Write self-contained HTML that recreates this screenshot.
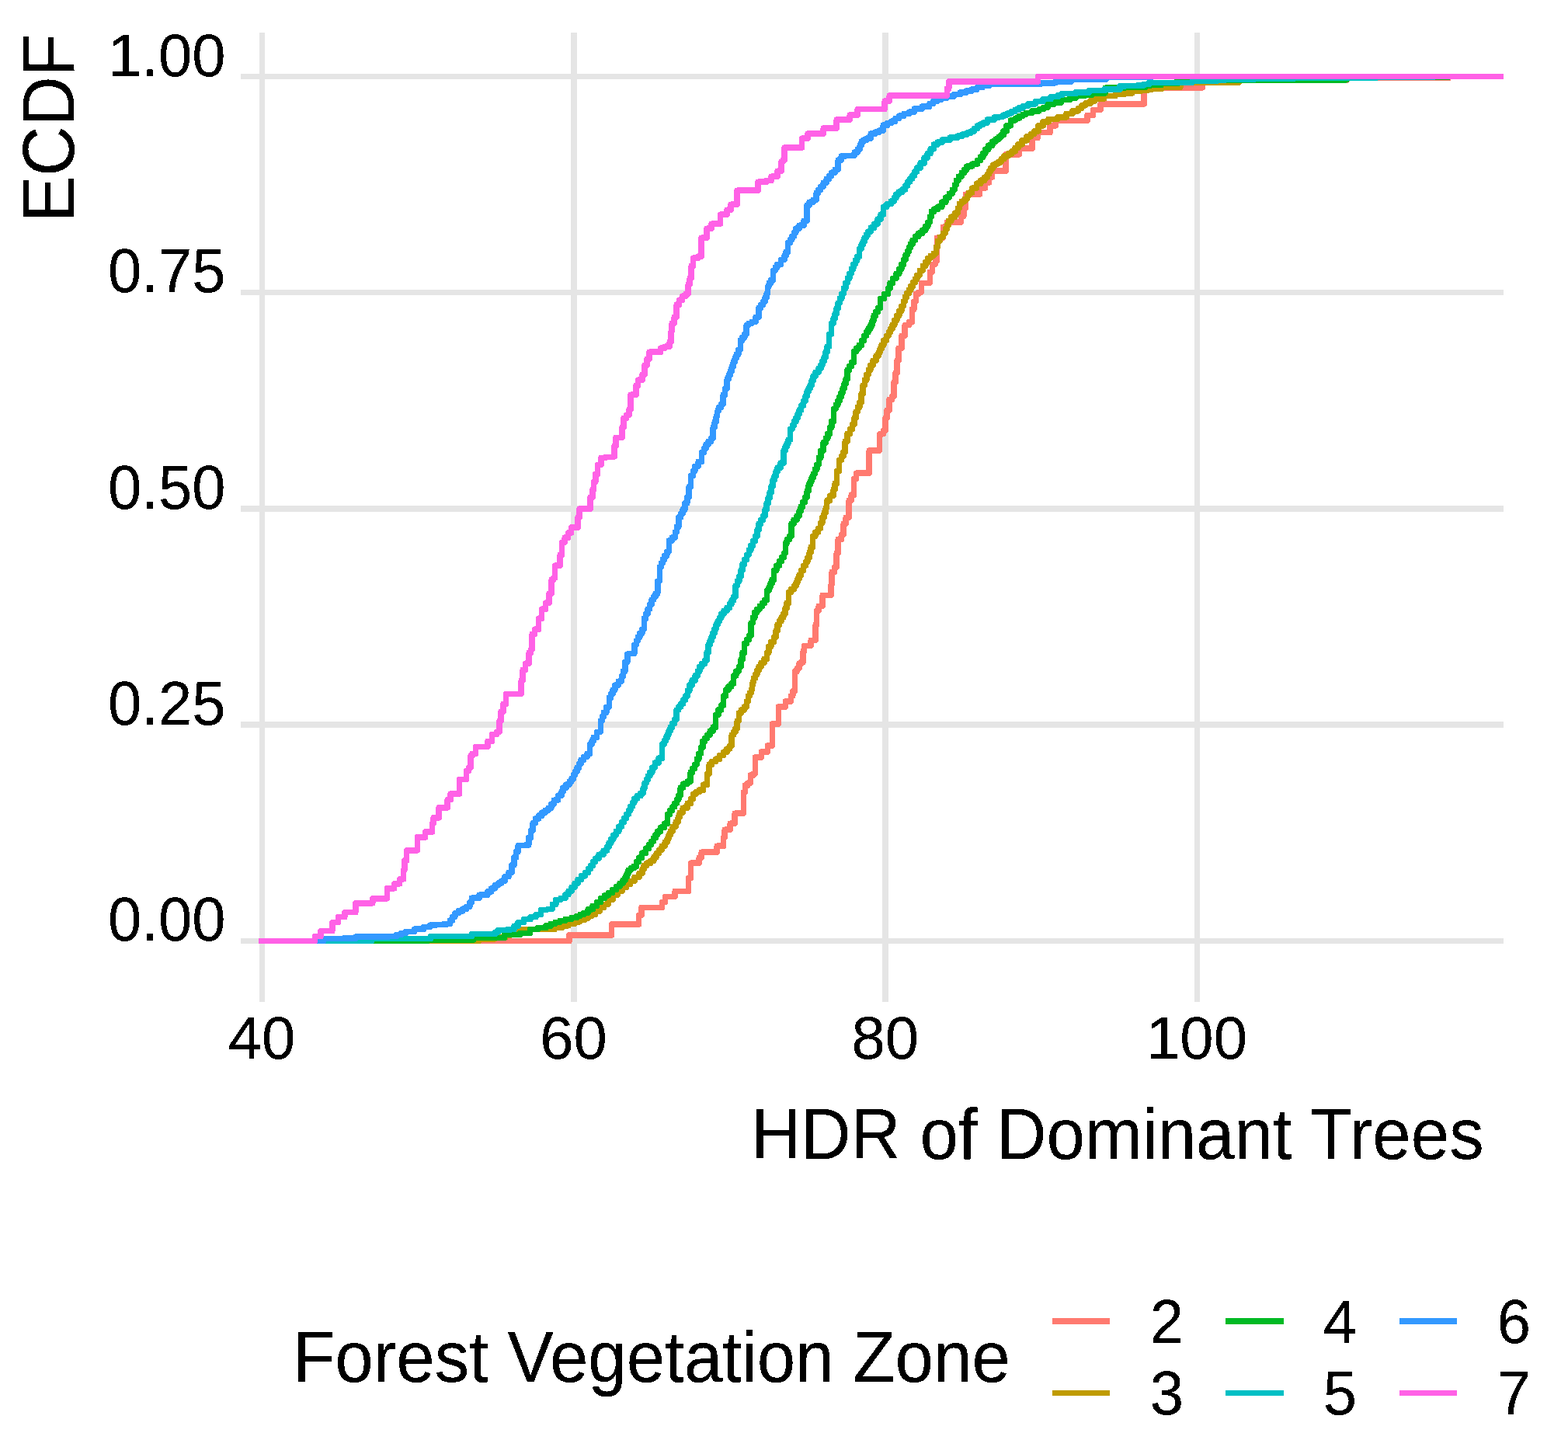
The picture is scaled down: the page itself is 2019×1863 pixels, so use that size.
<!DOCTYPE html>
<html lang="en">
<head>
<meta charset="utf-8">
<title>ECDF of HDR of Dominant Trees by Forest Vegetation Zone</title>
<style>
html,body{margin:0;padding:0;background:#fff;}
body{width:2019px;height:1863px;overflow:hidden;}
svg{display:block;}
text{filter:url(#crisp);font-family:"Liberation Sans",Arial,Helvetica,sans-serif;fill:#000;stroke:#000;stroke-width:0.2px;stroke-linejoin:round;}
.tk{font-size:77.8px;}
.tt{font-size:88.9px;}
.g{stroke:#E5E5E5;stroke-width:7;fill:none;stroke-linecap:butt;}
.c{fill:none;stroke-width:7.5;stroke-linejoin:round;stroke-linecap:butt;}
</style>
</head>
<body>
<svg width="2019" height="1863" viewBox="0 0 2019 1863" shape-rendering="crispEdges">
<defs><filter id="crisp" x="-10%" y="-10%" width="120%" height="120%" color-interpolation-filters="sRGB"><feComponentTransfer><feFuncA type="discrete" tableValues="0 1"/></feComponentTransfer></filter></defs>
<rect x="0" y="0" width="2019" height="1863" fill="#fff"/>
<g fill="#E5E5E5" stroke="none">
<rect x="310" y="95" width="1626" height="7"/>
<rect x="310" y="373" width="1626" height="7"/>
<rect x="310" y="651" width="1626" height="8"/>
<rect x="310" y="929" width="1626" height="8"/>
<rect x="310" y="1208" width="1626" height="7"/>
<rect x="334" y="42" width="7" height="1248"/>
<rect x="735" y="42" width="8" height="1248"/>
<rect x="1136" y="42" width="8" height="1248"/>
<rect x="1538" y="42" width="7" height="1248"/>
</g>
<g class="c">
<path stroke="#FF7A70" d="M333.0 1211.5 L700.0 1211.5 L733.0 1211.5 L733.0 1203.9 L786.1 1203.9 L787.6 1203.9 L787.6 1189.9 L789.1 1189.9 L821.1 1189.9 L822.6 1189.9 L822.6 1178.3 L824.1 1178.3 L826.1 1178.3 L826.1 1168.3 L828.1 1168.3 L851.2 1168.3 L852.7 1168.3 L852.7 1161.3 L854.2 1161.3 L856.7 1161.3 L856.7 1154.3 L859.2 1154.3 L869.2 1154.3 L869.2 1147.3 L885.2 1147.3 L886.7 1147.3 L886.7 1130.3 L888.2 1130.3 L889.7 1130.3 L889.7 1111.2 L891.2 1111.2 L900.2 1111.2 L900.2 1104.2 L903.2 1104.2 L903.2 1097.2 L906.2 1097.2 L923.2 1097.2 L923.2 1089.2 L930.2 1089.2 L931.7 1089.2 L931.7 1078.2 L933.2 1078.2 L933.2 1068.2 L940.2 1068.2 L940.2 1060.2 L946.2 1060.2 L946.2 1047.2 L956.3 1047.2 L957.3 1047.2 L957.3 1020.2 L958.3 1020.2 L959.3 1020.2 L959.3 1011.1 L960.3 1011.1 L962.8 1011.1 L962.8 1008.1 L965.3 1008.1 L966.3 1008.1 L966.3 998.1 L967.3 998.1 L969.8 998.1 L969.8 996.1 L972.3 996.1 L972.3 975.1 L980.3 975.1 L980.3 968.1 L988.3 968.1 L988.3 960.1 L993.3 960.1 L994.3 960.1 L994.3 932.1 L995.3 932.1 L1002.3 932.1 L1002.3 910.0 L1011.3 910.0 L1011.3 903.0 L1018.3 903.0 L1018.3 896.0 L1020.8 896.0 L1020.8 890.0 L1023.3 890.0 L1023.3 864.4 L1026.2 864.4 L1026.2 860.4 L1029.1 860.4 L1029.1 854.4 L1031.7 854.4 L1031.7 852.4 L1034.2 852.4 L1034.2 838.3 L1035.7 838.3 L1035.7 831.3 L1037.2 831.3 L1044.2 831.3 L1044.2 824.3 L1050.2 824.3 L1050.2 804.3 L1051.7 804.3 L1051.7 786.3 L1053.2 786.3 L1054.2 786.3 L1054.2 780.3 L1055.2 780.3 L1059.2 780.3 L1059.2 766.3 L1070.2 766.3 L1070.2 752.3 L1071.2 752.3 L1071.2 736.2 L1072.2 736.2 L1074.7 736.2 L1074.7 730.2 L1077.2 730.2 L1077.2 712.2 L1079.2 712.2 L1079.2 694.2 L1081.2 694.2 L1083.7 694.2 L1083.7 688.2 L1086.2 688.2 L1086.2 674.2 L1089.2 674.2 L1089.2 666.2 L1092.2 666.2 L1093.2 666.2 L1093.2 644.1 L1094.2 644.1 L1096.2 644.1 L1096.2 637.1 L1098.2 637.1 L1099.7 637.1 L1099.7 616.1 L1101.2 616.1 L1102.7 616.1 L1102.7 609.1 L1104.2 609.1 L1119.2 609.1 L1119.2 580.1 L1132.3 580.1 L1132.3 560.1 L1133.7 560.1 L1133.7 558.4 L1135.1 558.4 L1137.6 558.4 L1137.6 554.4 L1140.1 554.4 L1140.1 538.3 L1142.1 538.3 L1142.1 528.3 L1144.1 528.3 L1145.1 528.3 L1145.1 514.3 L1146.1 514.3 L1148.6 514.3 L1148.6 510.3 L1151.1 510.3 L1151.1 492.3 L1153.1 492.3 L1153.1 480.3 L1155.1 480.3 L1155.1 464.3 L1157.1 464.3 L1157.1 448.2 L1159.1 448.2 L1161.1 448.2 L1161.1 432.2 L1163.1 432.2 L1165.2 432.2 L1165.2 418.4 L1167.3 418.4 L1170.8 418.4 L1170.8 414.4 L1174.3 414.4 L1174.3 398.3 L1176.8 398.3 L1176.8 388.3 L1179.3 388.3 L1179.3 378.3 L1182.8 378.3 L1182.8 376.3 L1186.3 376.3 L1186.3 364.3 L1196.3 364.3 L1197.3 364.3 L1197.3 350.3 L1198.3 350.3 L1200.3 350.3 L1200.3 340.3 L1202.3 340.3 L1204.3 340.3 L1204.3 336.3 L1206.3 336.3 L1206.3 306.2 L1214.3 306.2 L1214.3 292.2 L1219.3 292.2 L1219.3 286.2 L1224.3 286.2 L1236.3 286.2 L1237.3 286.2 L1237.3 278.2 L1238.3 278.2 L1240.8 278.2 L1240.8 268.2 L1243.3 268.2 L1243.3 250.2 L1258.4 250.2 L1261.4 250.2 L1261.4 242.2 L1264.4 242.2 L1268.4 242.2 L1268.4 235.2 L1272.4 235.2 L1273.4 235.2 L1273.4 228.2 L1274.4 228.2 L1277.4 228.2 L1277.4 220.2 L1280.4 220.2 L1290.0 220.2 L1295.0 220.2 L1295.0 198.9 L1312.3 198.9 L1312.3 191.2 L1329.2 191.2 L1329.2 177.4 L1336.2 177.4 L1336.2 170.4 L1352.2 170.4 L1352.2 161.9 L1359.2 161.9 L1359.2 155.4 L1400.1 155.4 L1400.1 148.4 L1407.6 148.4 L1407.6 141.4 L1417.1 141.4 L1417.1 133.9 L1473.0 133.9 L1473.0 112.8 L1548.6 112.8 L1548.6 105.6 L1595.0 105.6 L1595.0 103.0 L1734.0 103.0 L1734.0 100.5 L1865.0 100.5 L1865.0 98.5 L1936.0 98.5"/>
<path stroke="#BF9B00" d="M333.0 1211.5 L531.7 1211.5 L606.6 1211.1 L616.8 1211.1 L616.8 1208.9 L637.3 1208.9 L637.3 1206.7 L647.5 1206.7 L650.8 1206.7 L650.8 1204.0 L657.5 1204.0 L657.5 1201.4 L664.2 1201.4 L664.2 1198.7 L667.5 1198.7 L673.5 1198.7 L673.5 1196.7 L679.5 1196.7 L708.0 1196.7 L714.0 1196.7 L714.0 1194.3 L720.0 1194.3 L724.0 1194.3 L724.0 1191.8 L732.0 1191.8 L732.0 1189.3 L736.0 1189.3 L739.5 1189.3 L739.5 1186.8 L746.5 1186.8 L746.5 1184.3 L750.1 1184.3 L752.4 1184.3 L752.4 1182.0 L757.1 1182.0 L757.1 1179.6 L761.7 1179.6 L761.7 1177.3 L764.1 1177.3 L766.7 1177.3 L766.7 1173.0 L772.1 1173.0 L772.1 1168.6 L777.4 1168.6 L777.4 1164.3 L780.1 1164.3 L783.1 1164.3 L783.1 1158.3 L789.1 1158.3 L789.1 1152.3 L792.1 1152.3 L795.1 1152.3 L795.1 1147.3 L801.1 1147.3 L801.1 1142.3 L804.1 1142.3 L806.6 1142.3 L806.6 1138.3 L811.6 1138.3 L811.6 1134.3 L814.1 1134.3 L817.1 1134.3 L817.1 1129.3 L823.1 1129.3 L823.1 1124.3 L826.1 1124.3 L827.1 1124.3 L827.1 1119.2 L829.1 1119.2 L829.1 1114.2 L830.1 1114.2 L832.6 1114.2 L832.6 1111.2 L837.6 1111.2 L837.6 1108.2 L840.1 1108.2 L841.8 1108.2 L841.8 1103.6 L845.1 1103.6 L845.1 1098.9 L848.5 1098.9 L848.5 1094.2 L850.2 1094.2 L852.2 1094.2 L852.2 1089.2 L856.2 1089.2 L856.2 1084.2 L858.2 1084.2 L859.2 1084.2 L859.2 1079.5 L861.2 1079.5 L861.2 1074.9 L863.2 1074.9 L863.2 1070.2 L864.2 1070.2 L866.2 1070.2 L866.2 1064.2 L870.2 1064.2 L870.2 1058.2 L872.2 1058.2 L873.2 1058.2 L873.2 1052.2 L875.2 1052.2 L875.2 1046.2 L876.2 1046.2 L879.2 1046.2 L879.2 1040.2 L885.2 1040.2 L885.2 1034.2 L888.2 1034.2 L889.7 1034.2 L889.7 1028.2 L892.7 1028.2 L892.7 1022.2 L894.2 1022.2 L896.2 1022.2 L896.2 1019.6 L900.2 1019.6 L900.2 1017.1 L902.2 1017.1 L905.7 1017.1 L905.7 1010.1 L909.2 1010.1 L910.7 1010.1 L910.7 996.1 L912.2 996.1 L913.2 996.1 L913.2 984.1 L914.2 984.1 L916.7 984.1 L916.7 980.6 L921.7 980.6 L921.7 977.1 L924.2 977.1 L926.7 977.1 L926.7 972.6 L931.7 972.6 L931.7 968.1 L934.2 968.1 L936.0 968.1 L936.0 964.1 L939.5 964.1 L939.5 960.1 L941.2 960.1 L942.2 960.1 L942.2 946.1 L943.2 946.1 L944.5 946.1 L944.5 942.1 L947.0 942.1 L947.0 938.1 L948.2 938.1 L949.2 938.1 L949.2 928.1 L951.3 928.1 L951.3 918.0 L952.3 918.0 L954.3 918.0 L954.3 914.0 L958.3 914.0 L958.3 910.0 L960.3 910.0 L961.3 910.0 L961.3 903.0 L963.3 903.0 L963.3 896.0 L964.3 896.0 L965.3 896.0 L965.3 892.0 L967.3 892.0 L967.3 888.0 L968.3 888.0 L969.3 878.0 L970.4 878.0 L970.4 873.1 L972.6 873.1 L972.6 868.2 L974.8 868.2 L974.8 863.3 L977.0 863.3 L977.0 858.4 L978.1 858.4 L980.1 858.4 L980.1 853.4 L984.1 853.4 L984.1 848.3 L986.1 848.3 L987.4 848.3 L987.4 840.3 L989.9 840.3 L989.9 832.3 L991.1 832.3 L992.9 832.3 L992.9 826.3 L996.4 826.3 L996.4 820.3 L998.1 820.3 L999.1 820.3 L999.1 812.3 L1001.1 812.3 L1001.1 804.3 L1002.1 804.3 L1003.5 804.3 L1003.5 799.6 L1006.1 799.6 L1006.1 795.0 L1008.8 795.0 L1008.8 790.3 L1010.1 790.3 L1011.1 790.3 L1011.1 783.3 L1013.1 783.3 L1013.1 776.3 L1014.1 776.3 L1015.6 776.3 L1015.6 762.3 L1017.1 762.3 L1018.9 762.3 L1018.9 758.3 L1022.4 758.3 L1022.4 754.3 L1024.1 754.3 L1025.1 754.3 L1025.1 749.6 L1027.1 749.6 L1027.1 744.9 L1029.1 744.9 L1029.1 740.2 L1030.2 740.2 L1031.7 740.2 L1031.7 734.2 L1034.7 734.2 L1034.7 728.2 L1036.2 728.2 L1037.4 728.2 L1037.4 723.2 L1039.9 723.2 L1039.9 718.2 L1041.2 718.2 L1042.2 718.2 L1042.2 711.2 L1044.2 711.2 L1044.2 704.2 L1045.2 704.2 L1046.7 704.2 L1046.7 690.2 L1048.2 690.2 L1049.9 690.2 L1049.9 685.2 L1053.4 685.2 L1053.4 680.2 L1055.2 680.2 L1056.4 680.2 L1056.4 673.2 L1058.9 673.2 L1058.9 666.2 L1060.2 666.2 L1061.2 666.2 L1061.2 660.2 L1063.2 660.2 L1063.2 654.2 L1064.2 654.2 L1065.2 644.1 L1068.7 644.1 L1068.7 638.1 L1072.2 638.1 L1073.2 638.1 L1073.2 630.1 L1075.2 630.1 L1075.2 622.1 L1076.2 622.1 L1077.7 622.1 L1077.7 606.1 L1079.2 606.1 L1080.7 606.1 L1080.7 592.1 L1082.2 592.1 L1083.5 592.1 L1083.5 587.1 L1086.0 587.1 L1086.0 582.1 L1087.2 582.1 L1088.2 582.1 L1088.2 568.1 L1089.2 568.1 L1091.1 568.1 L1091.1 558.4 L1093.1 558.4 L1094.6 558.4 L1094.6 552.4 L1097.6 552.4 L1097.6 546.3 L1099.1 546.3 L1100.1 546.3 L1100.1 538.3 L1102.1 538.3 L1102.1 530.3 L1103.1 530.3 L1104.3 530.3 L1104.3 524.3 L1106.8 524.3 L1106.8 518.3 L1108.1 518.3 L1109.1 518.3 L1109.1 507.3 L1111.1 507.3 L1111.1 496.3 L1112.1 496.3 L1113.3 496.3 L1113.3 489.3 L1115.8 489.3 L1115.8 482.3 L1117.1 482.3 L1118.3 482.3 L1118.3 476.3 L1120.8 476.3 L1120.8 470.3 L1122.1 470.3 L1124.1 470.3 L1124.1 464.3 L1128.1 464.3 L1128.1 458.3 L1130.1 458.3 L1131.1 458.3 L1131.1 453.6 L1133.1 453.6 L1133.1 448.9 L1135.1 448.9 L1135.1 444.2 L1136.1 444.2 L1137.8 444.2 L1137.8 438.2 L1141.4 438.2 L1141.4 432.2 L1143.1 432.2 L1144.3 432.2 L1144.3 427.6 L1146.7 427.6 L1146.7 423.0 L1149.1 423.0 L1149.1 418.4 L1150.3 418.4 L1151.8 418.4 L1151.8 412.4 L1154.8 412.4 L1154.8 406.3 L1156.3 406.3 L1157.8 406.3 L1157.8 400.3 L1160.8 400.3 L1160.8 394.3 L1162.3 394.3 L1163.3 394.3 L1163.3 388.3 L1165.3 388.3 L1165.3 382.3 L1166.3 382.3 L1167.6 382.3 L1167.6 377.7 L1170.3 377.7 L1170.3 373.0 L1172.9 373.0 L1172.9 368.3 L1174.3 368.3 L1175.6 368.3 L1175.6 363.6 L1178.3 363.6 L1178.3 359.0 L1180.9 359.0 L1180.9 354.3 L1182.3 354.3 L1184.3 354.3 L1184.3 348.3 L1188.3 348.3 L1188.3 342.3 L1190.3 342.3 L1191.8 342.3 L1191.8 337.3 L1194.8 337.3 L1194.8 332.3 L1196.3 332.3 L1198.3 332.3 L1198.3 329.3 L1202.3 329.3 L1202.3 326.3 L1204.3 326.3 L1205.3 326.3 L1205.3 318.3 L1207.3 318.3 L1207.3 310.3 L1208.3 310.3 L1210.3 310.3 L1210.3 305.2 L1214.3 305.2 L1214.3 300.2 L1216.3 300.2 L1217.3 300.2 L1217.3 294.9 L1219.3 294.9 L1219.3 289.6 L1221.3 289.6 L1221.3 284.2 L1222.3 284.2 L1224.8 284.2 L1224.8 279.2 L1229.8 279.2 L1229.8 274.2 L1232.3 274.2 L1233.3 274.2 L1233.3 268.2 L1235.3 268.2 L1235.3 262.2 L1236.3 262.2 L1238.3 262.2 L1238.3 259.2 L1242.3 259.2 L1242.3 256.2 L1244.3 256.2 L1245.3 256.2 L1245.3 252.2 L1247.3 252.2 L1247.3 248.2 L1248.3 248.2 L1251.4 248.2 L1251.4 242.2 L1257.4 242.2 L1257.4 236.2 L1260.4 236.2 L1262.9 236.2 L1262.9 232.2 L1267.9 232.2 L1267.9 228.2 L1270.4 228.2 L1271.4 228.2 L1271.4 224.2 L1273.4 224.2 L1273.4 220.2 L1274.4 220.2 L1275.9 220.2 L1275.9 216.2 L1278.9 216.2 L1278.9 212.2 L1280.4 212.2 L1282.4 212.2 L1282.4 210.2 L1286.4 210.2 L1286.4 208.1 L1288.4 208.1 L1289.2 208.1 L1289.2 204.8 L1290.0 204.8 L1293.0 204.8 L1293.0 200.8 L1296.0 200.8 L1298.2 200.8 L1298.2 197.9 L1302.8 197.9 L1302.8 194.9 L1305.0 194.9 L1307.0 194.9 L1307.0 190.4 L1311.0 190.4 L1311.0 185.9 L1313.0 185.9 L1316.0 185.9 L1316.0 180.9 L1322.0 180.9 L1322.0 175.9 L1325.0 175.9 L1327.2 175.9 L1327.2 172.4 L1331.8 172.4 L1331.8 168.9 L1334.0 168.9 L1337.0 168.9 L1337.0 161.9 L1340.0 161.9 L1343.0 161.9 L1343.0 156.9 L1346.0 156.9 L1350.0 156.9 L1350.0 153.4 L1354.0 153.4 L1362.0 153.4 L1362.0 150.9 L1370.0 150.9 L1373.0 150.9 L1373.0 146.4 L1376.0 146.4 L1381.0 146.4 L1381.0 142.9 L1386.0 142.9 L1388.2 142.9 L1388.2 139.4 L1392.8 139.4 L1392.8 135.9 L1395.0 135.9 L1397.5 135.9 L1397.5 133.0 L1400.0 133.0 L1404.0 133.0 L1404.0 130.0 L1408.0 130.0 L1409.5 130.0 L1409.5 127.0 L1411.0 127.0 L1421.5 127.0 L1421.5 123.5 L1432.0 123.5 L1436.0 123.5 L1436.0 121.5 L1440.0 121.5 L1447.5 121.5 L1447.5 120.0 L1455.0 120.0 L1457.5 120.0 L1457.5 117.5 L1460.0 117.5 L1475.0 116.5 L1477.5 116.5 L1477.5 115.0 L1480.0 115.0 L1490.0 114.5 L1495.9 114.5 L1495.9 112.5 L1501.8 112.5 L1519.8 112.5 L1519.8 106.5 L1595.3 106.1 L1595.3 103.0 L1734.0 102.8 L1734.0 100.5 L1764.0 100.5 L1764.0 99.3 L1865.0 99.3 L1865.0 98.5 L1936.0 98.5"/>
<path stroke="#00BA24" d="M333.0 1211.5 L523.7 1211.5 L579.6 1210.1 L609.6 1210.1 L609.6 1207.7 L639.5 1207.7 L649.5 1207.7 L649.5 1203.7 L659.5 1203.7 L669.5 1203.7 L669.5 1201.7 L679.5 1201.7 L682.5 1201.7 L682.5 1196.7 L685.5 1196.7 L692.4 1196.7 L692.4 1194.7 L699.4 1194.7 L700.0 1194.7 L703.0 1194.7 L703.0 1192.0 L709.0 1192.0 L709.0 1189.3 L712.0 1189.3 L715.0 1189.3 L715.0 1187.3 L721.0 1187.3 L721.0 1185.3 L724.0 1185.3 L728.0 1185.3 L728.0 1183.3 L736.0 1183.3 L736.0 1181.3 L740.0 1181.3 L742.4 1181.3 L742.4 1179.3 L747.0 1179.3 L747.0 1177.3 L751.7 1177.3 L751.7 1175.3 L754.1 1175.3 L757.1 1175.3 L757.1 1170.8 L763.1 1170.8 L763.1 1166.3 L766.1 1166.3 L768.6 1166.3 L768.6 1161.3 L773.6 1161.3 L773.6 1156.3 L776.1 1156.3 L778.6 1156.3 L778.6 1152.8 L783.6 1152.8 L783.6 1149.3 L786.1 1149.3 L788.6 1149.3 L788.6 1145.3 L793.6 1145.3 L793.6 1141.3 L796.1 1141.3 L798.1 1141.3 L798.1 1137.3 L802.1 1137.3 L802.1 1133.3 L804.1 1133.3 L805.1 1133.3 L805.1 1128.9 L807.1 1128.9 L807.1 1124.6 L809.1 1124.6 L809.1 1120.3 L810.1 1120.3 L812.1 1120.3 L812.1 1117.7 L816.1 1117.7 L816.1 1115.2 L818.1 1115.2 L819.6 1115.2 L819.6 1109.7 L822.6 1109.7 L822.6 1104.2 L824.1 1104.2 L826.6 1104.2 L826.6 1098.2 L831.6 1098.2 L831.6 1092.2 L834.1 1092.2 L835.6 1092.2 L835.6 1087.7 L838.6 1087.7 L838.6 1083.2 L840.1 1083.2 L841.5 1083.2 L841.5 1078.9 L844.1 1078.9 L844.1 1074.5 L846.8 1074.5 L846.8 1070.2 L848.1 1070.2 L850.7 1070.2 L850.7 1065.2 L855.7 1065.2 L855.7 1060.2 L858.2 1060.2 L859.7 1060.2 L859.7 1048.2 L861.2 1048.2 L862.7 1048.2 L862.7 1043.5 L865.7 1043.5 L865.7 1038.8 L868.7 1038.8 L868.7 1034.2 L870.2 1034.2 L871.4 1034.2 L871.4 1029.2 L873.9 1029.2 L873.9 1024.2 L875.2 1024.2 L876.2 1024.2 L876.2 1014.1 L877.2 1014.1 L879.7 1014.1 L879.7 1009.1 L882.2 1009.1 L885.2 1009.1 L885.2 1006.1 L888.2 1006.1 L889.2 1006.1 L889.2 994.1 L890.2 994.1 L891.7 994.1 L891.7 989.1 L894.7 989.1 L894.7 984.1 L896.2 984.1 L897.4 984.1 L897.4 977.1 L899.9 977.1 L899.9 970.1 L901.2 970.1 L902.5 970.1 L902.5 962.1 L905.0 962.1 L905.0 954.1 L906.2 954.1 L907.7 954.1 L907.7 950.1 L910.7 950.1 L910.7 946.1 L912.2 946.1 L914.2 946.1 L914.2 941.1 L918.2 941.1 L918.2 936.1 L920.2 936.1 L921.7 936.1 L921.7 920.1 L923.2 920.1 L925.0 920.1 L925.0 914.0 L928.5 914.0 L928.5 908.0 L930.2 908.0 L931.7 908.0 L931.7 896.0 L933.2 896.0 L934.7 896.0 L934.7 888.0 L936.2 888.0 L938.0 888.0 L938.0 884.0 L941.5 884.0 L941.5 880.0 L943.2 880.0 L944.7 880.0 L944.7 870.0 L946.1 870.0 L947.8 870.0 L947.8 864.2 L951.3 864.2 L951.3 858.4 L953.1 858.4 L954.1 858.4 L954.1 849.3 L956.1 849.3 L956.1 840.3 L957.1 840.3 L958.6 840.3 L958.6 828.3 L960.1 828.3 L961.6 828.3 L961.6 823.3 L964.6 823.3 L964.6 818.3 L966.1 818.3 L967.1 818.3 L967.1 802.3 L968.1 802.3 L969.3 802.3 L969.3 795.3 L971.8 795.3 L971.8 788.3 L973.1 788.3 L974.8 788.3 L974.8 784.3 L978.3 784.3 L978.3 780.3 L980.1 780.3 L981.6 780.3 L981.6 776.3 L984.6 776.3 L984.6 772.3 L986.1 772.3 L987.6 772.3 L987.6 760.3 L989.1 760.3 L990.1 760.3 L990.1 755.6 L992.1 755.6 L992.1 750.9 L994.1 750.9 L994.1 746.2 L995.1 746.2 L996.6 746.2 L996.6 734.2 L998.1 734.2 L999.9 734.2 L999.9 728.2 L1003.4 728.2 L1003.4 722.2 L1005.1 722.2 L1006.6 722.2 L1006.6 717.2 L1009.6 717.2 L1009.6 712.2 L1011.1 712.2 L1012.1 698.2 L1013.6 698.2 L1013.6 694.2 L1016.6 694.2 L1016.6 690.2 L1018.1 690.2 L1019.1 690.2 L1019.1 674.2 L1020.1 674.2 L1022.1 674.2 L1022.1 669.2 L1026.1 669.2 L1026.1 664.2 L1028.1 664.2 L1029.1 664.2 L1029.1 658.2 L1031.2 658.2 L1031.2 652.2 L1032.2 652.2 L1033.7 652.2 L1033.7 646.1 L1036.7 646.1 L1036.7 640.1 L1038.2 640.1 L1039.2 640.1 L1039.2 632.1 L1041.2 632.1 L1041.2 624.1 L1042.2 624.1 L1043.2 624.1 L1043.2 619.5 L1045.2 619.5 L1045.2 614.8 L1047.2 614.8 L1047.2 610.1 L1048.2 610.1 L1049.4 610.1 L1049.4 604.1 L1051.9 604.1 L1051.9 598.1 L1053.2 598.1 L1054.4 598.1 L1054.4 589.1 L1056.9 589.1 L1056.9 580.1 L1058.2 580.1 L1060.1 580.1 L1060.1 570.0 L1062.0 570.0 L1063.3 570.0 L1063.3 564.2 L1065.8 564.2 L1065.8 558.4 L1067.0 558.4 L1068.3 558.4 L1068.3 550.4 L1070.8 550.4 L1070.8 542.3 L1072.0 542.3 L1073.5 542.3 L1073.5 526.3 L1075.0 526.3 L1076.3 526.3 L1076.3 521.3 L1078.8 521.3 L1078.8 516.3 L1080.0 516.3 L1081.0 516.3 L1081.0 511.0 L1083.0 511.0 L1083.0 505.6 L1085.0 505.6 L1085.0 500.3 L1086.0 500.3 L1087.0 500.3 L1087.0 494.3 L1089.0 494.3 L1089.0 488.3 L1090.1 488.3 L1091.1 488.3 L1091.1 476.3 L1092.1 476.3 L1093.6 476.3 L1093.6 471.3 L1096.6 471.3 L1096.6 466.3 L1098.1 466.3 L1099.6 466.3 L1099.6 452.3 L1101.1 452.3 L1102.8 452.3 L1102.8 448.2 L1106.3 448.2 L1106.3 444.2 L1108.1 444.2 L1109.6 444.2 L1109.6 438.2 L1112.6 438.2 L1112.6 432.2 L1114.1 432.2 L1115.4 432.2 L1115.4 427.6 L1118.1 427.6 L1118.1 423.0 L1120.9 423.0 L1120.9 418.4 L1122.2 418.4 L1123.2 418.4 L1123.2 412.4 L1125.2 412.4 L1125.2 406.3 L1126.2 406.3 L1127.7 406.3 L1127.7 401.3 L1130.7 401.3 L1130.7 396.3 L1132.2 396.3 L1133.7 396.3 L1133.7 384.3 L1135.2 384.3 L1138.7 384.3 L1138.7 378.3 L1142.2 378.3 L1143.5 378.3 L1143.5 371.3 L1146.0 371.3 L1146.0 364.3 L1147.2 364.3 L1149.5 364.3 L1149.5 358.3 L1154.0 358.3 L1154.0 352.3 L1156.3 352.3 L1157.8 352.3 L1157.8 346.3 L1160.8 346.3 L1160.8 340.3 L1162.3 340.3 L1163.5 340.3 L1163.5 334.3 L1166.0 334.3 L1166.0 328.3 L1167.3 328.3 L1168.3 328.3 L1168.3 323.6 L1170.3 323.6 L1170.3 318.9 L1172.3 318.9 L1172.3 314.3 L1173.3 314.3 L1175.0 314.3 L1175.0 309.2 L1178.5 309.2 L1178.5 304.2 L1180.3 304.2 L1182.8 304.2 L1182.8 300.2 L1187.8 300.2 L1187.8 296.2 L1190.3 296.2 L1191.8 296.2 L1191.8 291.2 L1194.8 291.2 L1194.8 286.2 L1196.3 286.2 L1197.3 286.2 L1197.3 279.2 L1199.3 279.2 L1199.3 272.2 L1200.3 272.2 L1202.8 272.2 L1202.8 269.2 L1207.8 269.2 L1207.8 266.2 L1210.3 266.2 L1212.8 266.2 L1212.8 260.2 L1217.8 260.2 L1217.8 254.2 L1220.3 254.2 L1222.3 254.2 L1222.3 249.2 L1226.3 249.2 L1226.3 244.2 L1228.3 244.2 L1229.3 244.2 L1229.3 238.2 L1231.3 238.2 L1231.3 232.2 L1232.3 232.2 L1234.3 232.2 L1234.3 227.2 L1238.3 227.2 L1238.3 222.2 L1240.3 222.2 L1241.8 222.2 L1241.8 218.2 L1244.8 218.2 L1244.8 214.2 L1246.3 214.2 L1251.4 214.2 L1251.4 211.2 L1256.4 211.2 L1258.4 211.2 L1258.4 206.6 L1262.4 206.6 L1262.4 202.1 L1264.4 202.1 L1265.9 202.1 L1265.9 197.1 L1268.9 197.1 L1268.9 192.1 L1270.4 192.1 L1272.9 192.1 L1272.9 187.1 L1277.9 187.1 L1277.9 182.1 L1280.4 182.1 L1282.4 182.1 L1282.4 179.1 L1286.4 179.1 L1286.4 176.1 L1288.4 176.1 L1289.2 176.1 L1289.2 173.9 L1290.0 173.9 L1292.0 173.9 L1292.0 168.9 L1294.0 168.9 L1296.0 168.9 L1296.0 161.9 L1298.0 161.9 L1301.5 161.9 L1301.5 154.9 L1305.0 154.9 L1307.5 154.9 L1307.5 152.2 L1312.5 152.2 L1312.5 149.4 L1315.0 149.4 L1317.0 149.4 L1317.0 147.4 L1321.0 147.4 L1321.0 145.4 L1323.0 145.4 L1329.0 145.4 L1329.0 142.9 L1335.0 142.9 L1337.8 142.9 L1337.8 140.7 L1343.2 140.7 L1343.2 138.4 L1346.0 138.4 L1349.0 138.4 L1349.0 134.4 L1352.0 134.4 L1357.0 134.4 L1357.0 132.0 L1362.0 132.0 L1366.0 132.0 L1366.0 128.5 L1370.0 128.5 L1377.5 128.5 L1377.5 126.5 L1385.0 126.5 L1386.0 123.5 L1403.0 122.5 L1405.5 122.5 L1405.5 120.5 L1408.0 120.5 L1423.0 120.0 L1423.3 113.2 L1440.0 113.0 L1474.3 112.2 L1475.2 112.2 L1475.2 110.0 L1476.0 110.0 L1490.0 109.5 L1495.0 109.5 L1495.0 107.6 L1500.0 107.6 L1515.9 107.6 L1515.9 104.0 L1531.8 104.0 L1609.7 103.1 L1621.7 102.8 L1734.0 102.8 L1734.0 100.5 L1764.0 100.5 L1764.0 99.3 L1865.0 99.3 L1865.0 98.5 L1936.0 98.5"/>
<path stroke="#00BFC4" d="M333.0 1211.5 L427.8 1211.5 L478.8 1211.5 L478.8 1208.7 L529.7 1208.7 L554.6 1208.7 L554.6 1205.7 L579.6 1205.7 L607.6 1205.7 L607.6 1202.7 L635.5 1202.7 L637.5 1202.7 L637.5 1200.2 L641.5 1200.2 L641.5 1197.7 L643.5 1197.7 L659.5 1196.7 L662.0 1196.7 L662.0 1192.2 L667.0 1192.2 L667.0 1187.7 L669.5 1187.7 L674.5 1187.7 L674.5 1183.7 L679.5 1183.7 L683.0 1183.7 L683.0 1180.7 L689.9 1180.7 L689.9 1177.7 L693.4 1177.7 L696.4 1177.7 L696.4 1171.7 L699.4 1171.7 L700.0 1171.7 L709.0 1170.3 L711.3 1170.3 L711.3 1164.3 L715.8 1164.3 L715.8 1158.3 L718.0 1158.3 L722.0 1158.3 L722.0 1156.3 L726.0 1156.3 L728.0 1156.3 L728.0 1151.8 L732.0 1151.8 L732.0 1147.3 L734.0 1147.3 L736.0 1147.3 L736.0 1142.3 L740.0 1142.3 L740.0 1137.3 L744.0 1137.3 L744.0 1132.3 L746.0 1132.3 L748.5 1132.3 L748.5 1127.8 L753.6 1127.8 L753.6 1123.3 L756.1 1123.3 L757.6 1123.3 L757.6 1118.7 L760.6 1118.7 L760.6 1114.2 L763.6 1114.2 L763.6 1109.7 L766.6 1109.7 L766.6 1105.2 L768.1 1105.2 L771.1 1105.2 L771.1 1100.2 L777.1 1100.2 L777.1 1095.2 L780.1 1095.2 L781.4 1095.2 L781.4 1090.2 L784.1 1090.2 L784.1 1085.2 L786.8 1085.2 L786.8 1080.2 L788.1 1080.2 L789.8 1080.2 L789.8 1075.2 L793.3 1075.2 L793.3 1070.2 L795.1 1070.2 L796.8 1070.2 L796.8 1064.2 L800.4 1064.2 L800.4 1058.2 L802.1 1058.2 L803.6 1058.2 L803.6 1053.2 L806.6 1053.2 L806.6 1048.2 L808.1 1048.2 L809.4 1048.2 L809.4 1043.2 L811.9 1043.2 L811.9 1038.2 L813.1 1038.2 L814.4 1038.2 L814.4 1033.2 L816.9 1033.2 L816.9 1028.2 L818.1 1028.2 L820.4 1028.2 L820.4 1024.7 L824.9 1024.7 L824.9 1021.2 L827.1 1021.2 L828.1 1021.2 L828.1 1014.6 L830.1 1014.6 L830.1 1008.1 L831.1 1008.1 L832.3 1008.1 L832.3 1003.5 L834.6 1003.5 L834.6 998.8 L837.0 998.8 L837.0 994.1 L838.1 994.1 L839.9 994.1 L839.9 988.1 L843.4 988.1 L843.4 982.1 L845.1 982.1 L848.1 982.1 L848.1 976.1 L851.2 976.1 L852.7 976.1 L852.7 958.1 L854.2 958.1 L855.2 958.1 L855.2 954.1 L857.2 954.1 L857.2 950.1 L858.2 950.1 L859.2 950.1 L859.2 945.4 L861.2 945.4 L861.2 940.7 L863.2 940.7 L863.2 936.1 L864.2 936.1 L865.7 936.1 L865.7 931.1 L868.7 931.1 L868.7 926.1 L870.2 926.1 L871.2 926.1 L871.2 914.0 L872.2 914.0 L873.7 914.0 L873.7 910.0 L876.7 910.0 L876.7 906.0 L878.2 906.0 L879.7 906.0 L879.7 901.0 L882.7 901.0 L882.7 896.0 L884.2 896.0 L885.4 896.0 L885.4 889.0 L887.9 889.0 L887.9 882.0 L889.2 882.0 L891.1 882.0 L891.1 876.0 L895.1 876.0 L895.1 870.0 L897.0 870.0 L898.3 870.0 L898.3 864.2 L900.8 864.2 L900.8 858.4 L902.0 858.4 L903.8 858.4 L903.8 854.4 L907.3 854.4 L907.3 850.4 L909.0 850.4 L910.0 850.4 L910.0 840.3 L912.0 840.3 L912.0 830.3 L913.0 830.3 L914.0 830.3 L914.0 825.3 L916.0 825.3 L916.0 820.3 L917.0 820.3 L918.0 820.3 L918.0 815.0 L920.0 815.0 L920.0 809.6 L922.0 809.6 L922.0 804.3 L923.0 804.3 L924.2 804.3 L924.2 799.6 L926.5 799.6 L926.5 795.0 L928.9 795.0 L928.9 790.3 L930.1 790.3 L932.1 790.3 L932.1 786.3 L936.1 786.3 L936.1 782.3 L938.1 782.3 L939.4 782.3 L939.4 777.6 L942.1 777.6 L942.1 772.9 L944.7 772.9 L944.7 768.3 L946.1 768.3 L947.1 768.3 L947.1 754.3 L948.1 754.3 L949.3 754.3 L949.3 748.2 L951.8 748.2 L951.8 742.2 L953.1 742.2 L954.1 742.2 L954.1 734.2 L956.1 734.2 L956.1 726.2 L957.1 726.2 L958.6 726.2 L958.6 720.2 L961.6 720.2 L961.6 714.2 L963.1 714.2 L964.3 714.2 L964.3 708.2 L966.8 708.2 L966.8 702.2 L968.1 702.2 L969.6 702.2 L969.6 696.2 L972.6 696.2 L972.6 690.2 L974.1 690.2 L975.1 690.2 L975.1 682.2 L977.1 682.2 L977.1 674.2 L978.1 674.2 L979.6 674.2 L979.6 669.2 L982.6 669.2 L982.6 664.2 L984.1 664.2 L985.1 664.2 L985.1 656.2 L987.1 656.2 L987.1 648.1 L988.1 648.1 L989.1 648.1 L989.1 641.1 L991.1 641.1 L991.1 634.1 L992.1 634.1 L993.1 634.1 L993.1 626.1 L995.1 626.1 L995.1 618.1 L996.1 618.1 L997.1 618.1 L997.1 612.8 L999.1 612.8 L999.1 607.4 L1001.1 607.4 L1001.1 602.1 L1002.1 602.1 L1005.1 602.1 L1005.1 596.1 L1008.1 596.1 L1009.1 596.1 L1009.1 580.1 L1010.1 580.1 L1011.1 580.1 L1011.1 575.4 L1013.1 575.4 L1013.1 570.7 L1015.1 570.7 L1015.1 566.1 L1016.1 566.1 L1017.6 566.1 L1017.6 552.1 L1019.1 552.1 L1020.3 552.1 L1020.3 547.4 L1022.6 547.4 L1022.6 542.7 L1025.0 542.7 L1025.0 538.0 L1026.1 538.0 L1027.1 538.0 L1027.1 533.0 L1029.1 533.0 L1029.1 528.0 L1030.2 528.0 L1031.7 528.0 L1031.7 522.0 L1034.7 522.0 L1034.7 516.0 L1036.2 516.0 L1037.2 516.0 L1037.2 510.0 L1039.2 510.0 L1039.2 504.0 L1040.2 504.0 L1041.2 504.0 L1041.2 500.0 L1042.2 500.0 L1043.1 500.0 L1043.1 496.3 L1044.0 496.3 L1045.0 496.3 L1045.0 490.3 L1047.0 490.3 L1047.0 484.3 L1048.0 484.3 L1050.0 484.3 L1050.0 479.3 L1054.0 479.3 L1054.0 474.3 L1056.0 474.3 L1057.0 474.3 L1057.0 469.6 L1059.0 469.6 L1059.0 464.9 L1061.0 464.9 L1061.0 460.3 L1062.0 460.3 L1063.0 460.3 L1063.0 453.3 L1065.0 453.3 L1065.0 446.2 L1066.0 446.2 L1067.5 446.2 L1067.5 430.2 L1069.0 430.2 L1070.5 430.2 L1070.5 416.2 L1072.0 416.2 L1073.0 416.2 L1073.0 410.2 L1075.0 410.2 L1075.0 404.2 L1076.0 404.2 L1077.0 404.2 L1077.0 397.2 L1079.0 397.2 L1079.0 390.2 L1080.0 390.2 L1081.3 390.2 L1081.3 384.2 L1083.8 384.2 L1083.8 378.2 L1085.0 378.2 L1086.3 378.2 L1086.3 371.2 L1088.8 371.2 L1088.8 364.2 L1090.1 364.2 L1091.3 364.2 L1091.3 358.2 L1093.8 358.2 L1093.8 352.2 L1095.1 352.2 L1096.3 352.2 L1096.3 346.1 L1098.8 346.1 L1098.8 340.1 L1100.1 340.1 L1101.3 340.1 L1101.3 335.1 L1103.8 335.1 L1103.8 330.1 L1105.1 330.1 L1106.6 330.1 L1106.6 320.1 L1108.1 320.1 L1109.1 320.1 L1109.1 315.4 L1111.1 315.4 L1111.1 310.8 L1113.1 310.8 L1113.1 306.1 L1114.1 306.1 L1115.3 306.1 L1115.3 302.1 L1117.8 302.1 L1117.8 298.1 L1119.1 298.1 L1121.3 298.1 L1121.3 293.1 L1125.8 293.1 L1125.8 288.1 L1128.1 288.1 L1130.1 288.1 L1130.1 282.1 L1134.1 282.1 L1134.1 276.1 L1136.1 276.1 L1137.6 276.1 L1137.6 266.1 L1139.1 266.1 L1141.9 266.1 L1141.9 262.6 L1147.4 262.6 L1147.4 259.1 L1150.1 259.1 L1151.4 259.1 L1151.4 254.6 L1153.9 254.6 L1153.9 250.1 L1155.1 250.1 L1157.4 250.1 L1157.4 247.0 L1161.9 247.0 L1161.9 244.0 L1164.1 244.0 L1165.6 244.0 L1165.6 239.0 L1168.6 239.0 L1168.6 234.0 L1170.1 234.0 L1171.6 234.0 L1171.6 230.0 L1174.6 230.0 L1174.6 226.0 L1176.1 226.0 L1177.6 226.0 L1177.6 221.0 L1180.6 221.0 L1180.6 216.0 L1182.1 216.0 L1185.1 216.0 L1185.1 210.0 L1188.1 210.0 L1190.2 210.0 L1190.2 203.0 L1192.2 203.0 L1194.2 203.0 L1194.2 197.4 L1198.2 197.4 L1198.2 191.8 L1202.3 191.8 L1202.3 186.1 L1204.3 186.1 L1207.3 186.1 L1207.3 183.1 L1213.3 183.1 L1213.3 180.1 L1216.3 180.1 L1223.3 180.1 L1223.3 177.1 L1230.3 177.1 L1233.3 177.1 L1233.3 175.1 L1239.3 175.1 L1239.3 173.1 L1242.3 173.1 L1244.8 173.1 L1244.8 171.1 L1249.8 171.1 L1249.8 169.1 L1252.4 169.1 L1254.4 169.1 L1254.4 165.6 L1258.4 165.6 L1258.4 162.1 L1260.4 162.1 L1262.4 162.1 L1262.4 160.1 L1266.4 160.1 L1266.4 158.1 L1268.4 158.1 L1271.4 158.1 L1271.4 154.1 L1274.4 154.1 L1280.4 154.1 L1280.4 151.1 L1286.4 151.1 L1290.0 149.9 L1292.5 149.9 L1292.5 147.9 L1297.5 147.9 L1297.5 145.9 L1300.0 145.9 L1302.3 145.9 L1302.3 143.6 L1307.0 143.6 L1307.0 141.2 L1311.7 141.2 L1311.7 138.9 L1314.0 138.9 L1317.2 138.9 L1317.2 136.4 L1323.8 136.4 L1323.8 133.9 L1327.0 133.9 L1333.5 133.9 L1333.5 130.5 L1340.0 130.5 L1343.0 130.5 L1343.0 127.5 L1346.0 127.5 L1353.0 127.5 L1353.0 124.5 L1360.0 124.5 L1362.5 124.5 L1362.5 122.5 L1367.5 122.5 L1367.5 120.5 L1370.0 120.5 L1385.0 120.5 L1385.0 119.0 L1400.0 119.0 L1402.0 119.0 L1402.0 116.5 L1404.0 116.5 L1422.0 116.5 L1422.0 115.0 L1440.0 115.0 L1442.0 115.0 L1442.0 111.0 L1444.0 111.0 L1470.0 110.0 L1472.5 110.0 L1472.5 108.5 L1475.0 108.5 L1479.5 108.5 L1479.5 106.5 L1483.9 106.5 L1531.8 106.5 L1534.8 106.5 L1534.8 104.7 L1537.8 104.7 L1567.7 104.0 L1570.1 102.9 L1595.3 102.5 L1621.7 101.6 L1640.0 101.0 L1700.0 100.5 L1800.0 99.5 L1865.0 98.5 L1936.0 98.5"/>
<path stroke="#3399FF" d="M333.0 1211.5 L408.9 1211.5 L416.4 1211.5 L416.4 1208.7 L423.8 1208.7 L447.8 1208.1 L457.8 1208.1 L457.8 1206.1 L467.8 1206.1 L507.7 1205.7 L510.7 1205.7 L510.7 1203.6 L516.7 1203.6 L516.7 1201.4 L522.7 1201.4 L522.7 1199.3 L525.7 1199.3 L533.7 1199.3 L533.7 1196.1 L541.7 1196.1 L545.7 1196.1 L545.7 1193.6 L553.6 1193.6 L553.6 1191.1 L557.6 1191.1 L577.6 1189.7 L579.3 1189.7 L579.3 1185.1 L582.6 1185.1 L582.6 1180.4 L585.9 1180.4 L585.9 1175.7 L587.6 1175.7 L590.3 1175.7 L590.3 1172.9 L595.6 1172.9 L595.6 1170.1 L600.9 1170.1 L600.9 1167.3 L603.6 1167.3 L604.8 1167.3 L604.8 1161.8 L607.3 1161.8 L607.3 1156.2 L608.6 1156.2 L617.1 1156.2 L617.1 1152.2 L625.5 1152.2 L627.9 1152.2 L627.9 1148.0 L632.5 1148.0 L632.5 1143.9 L637.2 1143.9 L637.2 1139.8 L639.5 1139.8 L641.5 1139.8 L641.5 1137.0 L645.5 1137.0 L645.5 1134.2 L647.5 1134.2 L650.0 1134.2 L650.0 1128.7 L655.0 1128.7 L655.0 1123.2 L657.5 1123.2 L659.0 1123.2 L659.0 1113.5 L662.0 1113.5 L662.0 1103.8 L663.5 1103.8 L664.7 1103.8 L664.7 1096.4 L667.2 1096.4 L667.2 1088.9 L668.5 1088.9 L679.5 1087.9 L680.8 1087.9 L680.8 1078.5 L683.5 1078.5 L683.5 1069.2 L686.1 1069.2 L686.1 1059.9 L687.4 1059.9 L689.4 1059.9 L689.4 1053.9 L691.4 1053.9 L693.6 1053.9 L693.6 1050.0 L697.9 1050.0 L697.9 1046.2 L700.0 1046.2 L702.0 1046.2 L702.0 1043.2 L706.0 1043.2 L706.0 1040.2 L708.0 1040.2 L709.8 1040.2 L709.8 1035.2 L713.3 1035.2 L713.3 1030.2 L715.0 1030.2 L718.5 1030.2 L718.5 1024.2 L722.0 1024.2 L723.0 1024.2 L723.0 1019.1 L725.0 1019.1 L725.0 1014.1 L726.0 1014.1 L729.0 1014.1 L729.0 1010.1 L732.0 1010.1 L733.3 1010.1 L733.3 1006.3 L735.9 1006.3 L735.9 1002.4 L737.2 1002.4 L738.4 1002.4 L738.4 997.7 L740.7 997.7 L740.7 993.0 L743.1 993.0 L743.1 988.3 L744.2 988.3 L745.5 988.3 L745.5 983.3 L748.0 983.3 L748.0 978.3 L749.2 978.3 L751.5 978.3 L751.5 974.3 L756.0 974.3 L756.0 970.3 L758.2 970.3 L759.7 970.3 L759.7 958.3 L761.2 958.3 L762.2 958.3 L762.2 953.8 L764.2 953.8 L764.2 949.3 L765.2 949.3 L768.7 949.3 L768.7 942.3 L772.3 942.3 L773.3 942.3 L773.3 928.3 L774.3 928.3 L775.3 928.3 L775.3 922.8 L777.3 922.8 L777.3 917.3 L778.3 917.3 L780.8 917.3 L780.8 910.3 L783.3 910.3 L784.3 910.3 L784.3 898.3 L785.3 898.3 L786.5 898.3 L786.5 893.3 L789.0 893.3 L789.0 888.2 L790.3 888.2 L791.8 888.2 L791.8 882.2 L793.3 882.2 L796.3 882.2 L796.3 877.2 L799.3 877.2 L800.3 877.2 L800.3 870.7 L802.3 870.7 L802.3 864.2 L803.3 864.2 L804.8 864.2 L804.8 852.2 L806.3 852.2 L807.8 852.2 L807.8 842.2 L809.3 842.2 L815.3 841.2 L816.8 841.2 L816.8 830.2 L818.3 830.2 L819.3 830.2 L819.3 825.2 L821.3 825.2 L821.3 820.2 L822.3 820.2 L823.8 820.2 L823.8 815.2 L826.8 815.2 L826.8 810.2 L828.3 810.2 L829.3 810.2 L829.3 796.2 L830.3 796.2 L831.6 796.2 L831.6 790.2 L834.1 790.2 L834.1 784.1 L835.3 784.1 L836.6 784.1 L836.6 778.1 L839.1 778.1 L839.1 772.1 L840.3 772.1 L841.6 772.1 L841.6 768.1 L844.1 768.1 L844.1 764.1 L845.3 764.1 L846.8 764.1 L846.8 748.1 L848.3 748.1 L849.3 748.1 L849.3 730.1 L850.3 730.1 L851.3 730.1 L851.3 725.1 L853.3 725.1 L853.3 720.1 L854.3 720.1 L855.8 720.1 L855.8 715.1 L858.8 715.1 L858.8 710.1 L860.3 710.1 L861.3 710.1 L861.3 696.1 L862.3 696.1 L865.3 696.1 L865.3 692.1 L868.3 692.1 L869.3 692.1 L869.3 685.0 L871.4 685.0 L871.4 678.0 L872.4 678.0 L873.9 678.0 L873.9 666.0 L875.4 666.0 L876.6 666.0 L876.6 661.0 L879.1 661.0 L879.1 656.0 L880.4 656.0 L881.9 656.0 L881.9 648.0 L883.4 648.0 L884.8 648.0 L884.8 640.0 L886.2 640.0 L887.2 640.0 L887.2 626.4 L888.2 626.4 L889.7 626.4 L889.7 612.3 L891.2 612.3 L892.4 612.3 L892.4 606.3 L894.9 606.3 L894.9 600.3 L896.2 600.3 L899.2 600.3 L899.2 594.3 L902.2 594.3 L903.7 594.3 L903.7 582.3 L905.2 582.3 L906.5 582.3 L906.5 577.3 L909.0 577.3 L909.0 572.3 L910.2 572.3 L912.0 572.3 L912.0 568.3 L915.5 568.3 L915.5 564.3 L917.2 564.3 L918.2 564.3 L918.2 550.3 L919.2 550.3 L920.2 550.3 L920.2 543.3 L922.2 543.3 L922.2 536.3 L923.2 536.3 L924.2 528.3 L925.7 528.3 L925.7 524.3 L928.7 524.3 L928.7 520.3 L930.2 520.3 L931.2 520.3 L931.2 508.2 L932.2 508.2 L933.7 508.2 L933.7 500.2 L935.2 500.2 L936.2 500.2 L936.2 488.2 L937.2 488.2 L938.2 488.2 L938.2 483.2 L940.2 483.2 L940.2 478.2 L941.2 478.2 L942.2 478.2 L942.2 472.2 L944.2 472.2 L944.2 466.2 L945.2 466.2 L946.2 466.2 L946.2 461.2 L948.2 461.2 L948.2 456.2 L949.2 456.2 L950.8 456.2 L950.8 450.2 L952.3 450.2 L953.3 450.2 L953.3 438.2 L954.3 438.2 L955.8 438.2 L955.8 434.2 L958.8 434.2 L958.8 430.2 L960.3 430.2 L961.2 430.2 L961.2 418.4 L962.1 418.4 L964.1 418.4 L964.1 416.4 L968.1 416.4 L968.1 414.4 L970.1 414.4 L973.1 414.4 L973.1 408.3 L976.1 408.3 L977.1 408.3 L977.1 396.3 L978.1 396.3 L979.6 396.3 L979.6 392.3 L982.6 392.3 L982.6 388.3 L984.1 388.3 L985.1 388.3 L985.1 383.3 L987.1 383.3 L987.1 378.3 L988.1 378.3 L989.1 368.3 L990.3 368.3 L990.3 364.3 L992.8 364.3 L992.8 360.3 L994.1 360.3 L995.6 360.3 L995.6 348.3 L997.1 348.3 L998.3 348.3 L998.3 344.3 L1000.9 344.3 L1000.9 340.3 L1002.1 340.3 L1005.6 340.3 L1005.6 334.3 L1009.1 334.3 L1010.1 334.3 L1010.1 329.3 L1012.1 329.3 L1012.1 324.3 L1013.1 324.3 L1014.6 324.3 L1014.6 312.3 L1016.1 312.3 L1017.4 312.3 L1017.4 308.2 L1019.9 308.2 L1019.9 304.2 L1021.1 304.2 L1022.4 304.2 L1022.4 299.2 L1024.9 299.2 L1024.9 294.2 L1026.1 294.2 L1029.1 294.2 L1029.1 290.2 L1032.1 290.2 L1035.1 290.2 L1035.1 284.2 L1038.1 284.2 L1039.1 284.2 L1039.1 264.2 L1040.1 264.2 L1042.1 264.2 L1042.1 260.2 L1044.1 260.2 L1047.1 260.2 L1047.1 257.2 L1050.2 257.2 L1051.2 257.2 L1051.2 248.2 L1052.2 248.2 L1053.7 248.2 L1053.7 244.2 L1056.7 244.2 L1056.7 240.2 L1058.2 240.2 L1060.2 240.2 L1060.2 235.2 L1064.2 235.2 L1064.2 230.2 L1066.2 230.2 L1067.7 230.2 L1067.7 226.2 L1070.7 226.2 L1070.7 222.2 L1072.2 222.2 L1075.2 222.2 L1075.2 218.2 L1078.2 218.2 L1079.2 218.2 L1079.2 206.1 L1080.2 206.1 L1083.2 206.1 L1083.2 201.1 L1086.2 201.1 L1098.2 200.1 L1100.2 200.1 L1100.2 196.1 L1104.2 196.1 L1104.2 192.1 L1106.2 192.1 L1107.2 192.1 L1107.2 187.1 L1109.2 187.1 L1109.2 182.1 L1110.2 182.1 L1112.2 182.1 L1112.2 180.1 L1116.2 180.1 L1116.2 178.1 L1118.2 178.1 L1121.2 178.1 L1121.2 172.1 L1124.2 172.1 L1126.7 172.1 L1126.7 170.1 L1131.7 170.1 L1131.7 168.1 L1134.2 168.1 L1137.2 168.1 L1137.2 161.1 L1140.2 161.1 L1142.7 161.1 L1142.7 158.6 L1147.7 158.6 L1147.7 156.1 L1150.3 156.1 L1152.8 156.1 L1152.8 152.6 L1157.8 152.6 L1157.8 149.1 L1160.3 149.1 L1163.8 149.1 L1163.8 146.6 L1170.8 146.6 L1170.8 144.1 L1174.3 144.1 L1177.3 144.1 L1177.3 140.1 L1180.3 140.1 L1187.3 140.1 L1187.3 137.1 L1194.3 137.1 L1196.8 137.1 L1196.8 133.6 L1201.8 133.6 L1201.8 130.1 L1204.3 130.1 L1206.8 130.1 L1206.8 128.1 L1211.8 128.1 L1211.8 126.1 L1214.3 126.1 L1219.3 126.1 L1219.3 124.1 L1224.3 124.1 L1228.3 124.1 L1228.3 121.6 L1236.3 121.6 L1236.3 119.1 L1240.3 119.1 L1243.8 119.1 L1243.8 117.1 L1250.9 117.1 L1250.9 115.1 L1254.4 115.1 L1257.9 115.1 L1257.9 112.6 L1264.9 112.6 L1264.9 110.1 L1268.4 110.1 L1274.4 110.1 L1274.4 108.0 L1280.4 108.0 L1290.0 108.0 L1317.0 108.0 L1317.0 107.8 L1342.0 107.8 L1342.0 106.8 L1359.0 106.8 L1359.0 105.1 L1379.0 105.1 L1379.0 102.1 L1424.0 102.1 L1424.0 99.3 L1483.0 99.3 L1483.0 98.5 L1936.0 98.5"/>
<path stroke="#FF61E6" d="M333.0 1211.5 L405.5 1211.5 L405.5 1205.7 L412.9 1205.7 L412.9 1198.7 L427.8 1198.7 L427.8 1187.7 L435.4 1187.7 L435.4 1180.7 L443.8 1180.7 L443.8 1174.7 L457.8 1174.7 L457.8 1162.8 L479.8 1162.8 L479.8 1156.8 L498.3 1156.8 L498.3 1143.8 L507.7 1143.8 L507.7 1137.8 L514.7 1137.8 L514.7 1131.8 L519.7 1131.8 L519.7 1119.8 L520.9 1119.8 L520.9 1107.8 L522.1 1107.8 L523.7 1107.8 L523.7 1094.9 L525.3 1094.9 L537.3 1094.9 L537.3 1077.9 L547.7 1077.9 L547.7 1070.9 L556.6 1070.9 L556.6 1059.9 L558.1 1059.9 L558.1 1052.9 L559.6 1052.9 L565.2 1052.9 L565.2 1039.9 L576.2 1039.9 L576.2 1029.6 L580.2 1029.6 L580.2 1022.0 L591.6 1022.0 L591.6 1003.4 L591.6 1003.4 L591.6 1003.4 L600.7 1003.4 L600.7 992.4 L603.4 992.4 L603.4 988.3 L606.1 988.3 L606.1 973.3 L608.1 973.3 L608.1 970.3 L610.1 970.3 L612.6 970.3 L612.6 961.3 L615.1 961.3 L625.1 961.3 L628.1 961.3 L628.1 954.3 L631.1 954.3 L633.6 954.3 L633.6 945.3 L636.1 945.3 L639.6 945.3 L639.6 942.3 L643.1 942.3 L643.1 928.3 L645.1 928.3 L645.1 916.3 L647.1 916.3 L648.1 916.3 L648.1 906.3 L649.1 906.3 L651.6 906.3 L651.6 893.3 L654.1 893.3 L669.1 893.3 L671.2 893.3 L671.2 876.2 L673.2 876.2 L673.2 862.2 L676.7 862.2 L676.7 854.2 L680.2 854.2 L681.2 854.2 L681.2 840.2 L682.2 840.2 L683.7 840.2 L683.7 836.2 L685.2 836.2 L685.2 816.2 L688.7 816.2 L688.7 810.2 L692.2 810.2 L693.7 810.2 L693.7 796.2 L695.2 796.2 L697.7 796.2 L697.7 784.1 L700.2 784.1 L702.7 784.1 L702.7 776.1 L705.2 776.1 L707.2 776.1 L707.2 764.1 L709.2 764.1 L710.2 764.1 L710.2 746.1 L711.2 746.1 L712.9 746.1 L712.9 744.1 L714.6 744.1 L714.6 728.1 L720.2 728.1 L721.2 728.1 L721.2 714.1 L722.2 714.1 L723.7 714.1 L723.7 698.1 L725.2 698.1 L727.2 698.1 L727.2 692.1 L729.2 692.1 L731.7 692.1 L731.7 686.0 L734.2 686.0 L735.7 686.0 L735.7 679.0 L737.2 679.0 L743.2 679.0 L744.2 679.0 L744.2 666.0 L745.2 666.0 L746.2 666.0 L746.2 655.0 L747.2 655.0 L760.2 655.0 L760.2 640.0 L763.1 640.0 L763.1 630.4 L764.3 630.4 L764.3 620.4 L766.8 620.4 L766.8 610.3 L768.1 610.3 L769.6 610.3 L769.6 598.3 L771.1 598.3 L774.1 598.3 L774.1 589.3 L777.1 589.3 L790.1 587.9 L791.1 587.9 L791.1 574.3 L792.1 574.3 L793.1 574.3 L793.1 563.3 L794.1 563.3 L800.1 563.3 L801.1 563.3 L801.1 550.3 L802.1 550.3 L803.1 550.3 L803.1 538.3 L804.1 538.3 L806.6 538.3 L806.6 534.3 L809.1 534.3 L810.1 534.3 L810.1 527.3 L811.1 527.3 L812.1 527.3 L812.1 508.2 L813.1 508.2 L819.1 508.2 L819.1 496.2 L821.6 496.2 L821.6 489.2 L824.1 489.2 L827.1 489.2 L827.1 482.2 L830.1 482.2 L830.1 470.2 L833.1 470.2 L833.1 462.2 L836.1 462.2 L836.1 453.2 L849.1 453.2 L850.7 453.2 L850.7 448.2 L852.2 448.2 L856.2 448.2 L856.2 446.2 L860.2 446.2 L862.2 446.2 L862.2 440.2 L864.2 440.2 L864.2 426.2 L865.2 426.2 L865.2 416.1 L866.2 416.1 L868.2 416.1 L868.2 408.1 L870.2 408.1 L871.2 408.1 L871.2 392.1 L872.2 392.1 L874.7 392.1 L874.7 386.1 L877.2 386.1 L878.7 386.1 L878.7 381.1 L880.2 381.1 L883.2 381.1 L883.2 378.1 L886.2 378.1 L886.2 366.1 L888.2 366.1 L888.2 358.1 L890.2 358.1 L890.2 342.1 L892.7 342.1 L892.7 332.1 L895.2 332.1 L898.7 332.1 L898.7 330.1 L902.2 330.1 L902.2 330.1 L903.1 330.1 L903.1 306.2 L904.0 306.2 L910.0 306.2 L910.0 294.2 L916.0 294.2 L916.0 288.2 L926.0 288.2 L927.5 288.2 L927.5 276.2 L929.0 276.2 L936.0 276.2 L936.0 270.2 L941.0 270.2 L941.0 263.2 L949.0 263.2 L949.0 245.2 L975.1 245.2 L976.1 245.2 L976.1 234.2 L977.1 234.2 L980.1 234.2 L986.6 234.2 L986.6 232.6 L993.1 232.6 L993.1 227.2 L1001.1 227.2 L1001.1 220.2 L1006.1 220.2 L1006.1 208.1 L1008.1 208.1 L1008.1 206.1 L1010.1 206.1 L1010.1 190.1 L1031.1 190.1 L1032.6 190.1 L1032.6 178.1 L1034.1 178.1 L1040.1 178.1 L1040.1 172.1 L1060.2 172.1 L1060.2 165.1 L1076.2 165.1 L1077.2 165.1 L1077.2 154.1 L1078.2 154.1 L1094.2 154.1 L1094.2 148.1 L1104.2 148.1 L1104.2 140.5 L1139.2 140.5 L1139.2 130.1 L1145.2 130.1 L1145.2 123.1 L1219.3 123.1 L1219.3 114.1 L1221.8 114.1 L1221.8 105.0 L1224.3 105.0 L1290.0 105.0 L1336.5 105.0 L1336.5 98.5 L1936.0 98.5 L1936.0 98.5"/>
</g>
<g class="tk" text-anchor="end">
<text transform="translate(290.5 97.5) scale(1 1.0)" x="0" y="0">1.00</text>
<text transform="translate(290.5 375.5) scale(1 1.015)" x="0" y="0">0.75</text>
<text transform="translate(290.5 654.5) scale(1 1.015)" x="0" y="0">0.50</text>
<text transform="translate(290.5 932.5) scale(1 1.015)" x="0" y="0">0.25</text>
<text transform="translate(290.5 1210.5) scale(1 1.015)" x="0" y="0">0.00</text>
</g>
<g class="tk" text-anchor="middle">
<text transform="translate(337.1 1363.2) scale(1 1.0)" x="0" y="0">40</text>
<text transform="translate(738.4 1363.2) scale(1 1.0)" x="0" y="0">60</text>
<text transform="translate(1139.7 1363.2) scale(1 1.0)" x="0" y="0">80</text>
<text transform="translate(1541.0 1363.2) scale(1 1.0)" x="0" y="0">100</text>
</g>
<text class="tt" text-anchor="end" transform="translate(1910.6 1491.6) scale(1 1.05)" x="0" y="0">HDR of Dominant Trees</text>
<text class="tt" text-anchor="end" transform="translate(95.0 44.0) rotate(-90) scale(1 1.06)" x="0" y="0">ECDF</text>
<text class="tt" text-anchor="start" transform="translate(377.0 1778.8) scale(1 1.05)" x="0" y="0">Forest Vegetation Zone</text>
<g stroke="none">
<rect fill="#FF7A70" x="1355" y="1697" width="74" height="8"/>
<rect fill="#BF9B00" x="1355" y="1790" width="74" height="7"/>
<rect fill="#00BA24" x="1578" y="1697" width="75" height="8"/>
<rect fill="#00BFC4" x="1578" y="1790" width="75" height="7"/>
<rect fill="#3399FF" x="1802" y="1697" width="74" height="8"/>
<rect fill="#FF61E6" x="1802" y="1790" width="74" height="7"/>
</g>
<g class="tk" text-anchor="start">
<text transform="translate(1480.8 1728.8) scale(1 1.02)" x="0" y="0">2</text>
<text transform="translate(1480.8 1820.8) scale(1 1.02)" x="0" y="0">3</text>
<text transform="translate(1703.8 1728.8) scale(1 1.02)" x="0" y="0">4</text>
<text transform="translate(1703.8 1820.8) scale(1 1.02)" x="0" y="0">5</text>
<text transform="translate(1927.8 1728.8) scale(1 1.02)" x="0" y="0">6</text>
<text transform="translate(1927.8 1820.8) scale(1 1.02)" x="0" y="0">7</text>
</g>
</svg>
</body>
</html>
